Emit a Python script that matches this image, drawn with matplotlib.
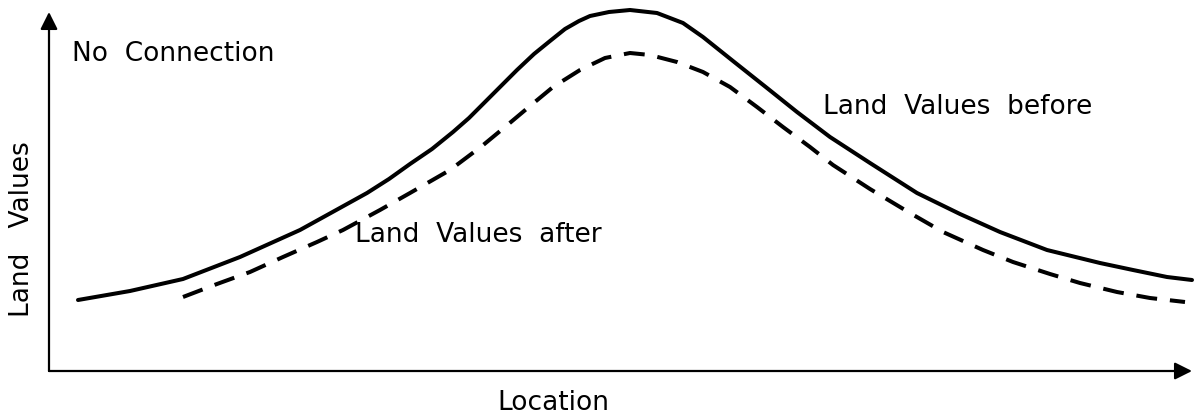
"""Land values along a location axis, before and after (no connection)."""

import matplotlib

matplotlib.use("Agg")
from matplotlib import pyplot as plt  # noqa: E402

# values (location, land value), arbitrary units
before_x = [29, 81, 134, 191, 251, 318, 340, 361, 383, 404, 420, 434, 451,
            468, 485, 501, 516, 530, 541, 560, 581, 608, 634, 654, 684, 718,
            748, 781, 821, 868, 911, 951, 998, 1051, 1084, 1118, 1143]
before_y = [71, 80, 92, 114, 141, 178, 192, 207, 222, 239, 253, 267, 284,
            301, 317, 330, 342, 350, 355, 359, 361, 358, 348, 334, 310, 283,
            259, 234, 208, 178, 157, 139, 121, 108, 101, 94, 91]

after_x = [134, 168, 201, 234, 268, 294, 331, 361, 401, 433, 456, 481, 504,
           531, 556, 581, 601, 628, 654, 681, 708, 734, 761, 784, 821, 861,
           894, 934, 964, 1001, 1031, 1068, 1101, 1136]
after_y = [74, 87, 99, 114, 129, 141, 161, 178, 201, 225, 244, 265, 284,
           301, 313, 318, 316, 309, 299, 284, 264, 244, 224, 206, 182, 158,
           139, 121, 109, 97, 88, 79, 73, 69]

x_end = 1143
y_end = 359

fig = plt.figure(figsize=(12.02, 4.2), dpi=100)
ax = fig.add_axes([0, 0, 1, 1])
ax.set_xlim(-49, 1153)
ax.set_ylim(-49, 371)
ax.axis("off")

ax.plot(before_x, before_y, color="black", lw=2.9, solid_capstyle="round",
        solid_joinstyle="round")
ax.plot(after_x, after_y, color="black", lw=2.9, dashes=(5.2, 3.2),
        dash_capstyle="butt", dash_joinstyle="round")

arrow = dict(arrowstyle="-|>", color="black", lw=1.6, mutation_scale=26,
             shrinkA=0, shrinkB=0)
ax.annotate("", xy=(0, y_end), xytext=(0, 0), arrowprops=arrow)
ax.annotate("", xy=(x_end, 0), xytext=(0, 0), arrowprops=arrow)

font = dict(family="DejaVu Sans", color="black", fontsize=19)
ax.text(23, 317, "No  Connection", ha="left", va="center", **font)
ax.text(774, 264, "Land  Values  before", ha="left", va="center", **font)
ax.text(306, 136, "Land  Values  after", ha="left", va="center", **font)
ax.text(-27, 142, "Land   Values", ha="center", va="center", rotation=90, **font)
ax.text(504, -32, "Location", ha="center", va="center", **font)

fig.savefig("out.png", dpi=100)
plt.close(fig)
